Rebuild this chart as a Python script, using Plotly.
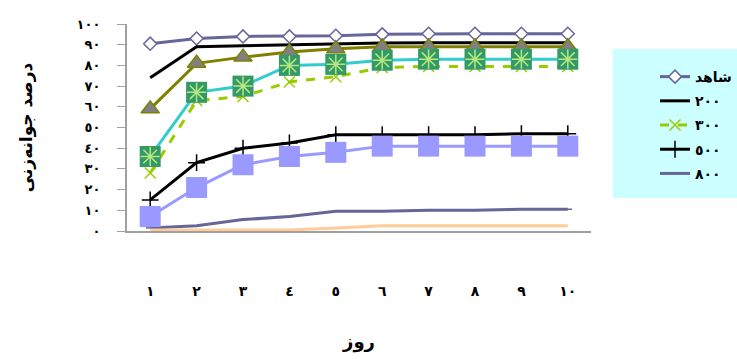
import plotly.graph_objects as go

days = [1, 2, 3, 4, 5, 6, 7, 8, 9, 10]
day_labels = ["١", "٢", "٣", "٤", "٥", "٦", "٧", "٨", "٩", "١٠"]
y_ticks = [0, 10, 20, 30, 40, 50, 60, 70, 80, 90, 100]
y_tick_labels = ["٠", "١٠", "٢٠", "٣٠", "٤٠", "٥٠", "٦٠", "٧٠", "٨٠", "٩٠", "١٠٠"]

control = [90.5, 93, 94, 94, 94.3, 95, 95.3, 95.3, 95.3, 95.3]
s200 = [74, 89, 89.5, 90, 90.5, 90.8, 91, 91, 91, 91]
s300 = [28, 63, 65, 72, 74.5, 79, 79.5, 79.5, 79.5, 79.5]
s500 = [15, 33, 40, 42.5, 46.5, 46.5, 46.5, 46.5, 47, 47]
s800 = [1.5, 2.5, 5.5, 7, 9.5, 9.5, 10, 10, 10.5, 10.5]
s_olive = [59, 81, 84, 86.5, 88, 89, 89, 89, 89, 89]
s_teal = [36, 67, 70, 80, 80.5, 82.5, 83, 83, 83, 83]
s_lav = [7, 21, 32, 36, 38, 41, 41, 41, 41, 41]
s_orange = [0.5, 0.5, 0.5, 0.5, 1.5, 2.5, 2.5, 2.5, 2.5, 2.5]

names = ["شاهد", "٢٠٠", "٣٠٠", "٥٠٠", "٨٠٠"]

fig = go.Figure()

fig.add_trace(go.Scatter(x=days, y=control, name=names[0], mode="lines+markers",
                         line=dict(color="#666699", width=3),
                         marker=dict(symbol="diamond", size=10, color="white",
                                     line=dict(color="#666699", width=1.5)),
                         legendgroup="a"))
fig.add_trace(go.Scatter(x=days, y=s200, name=names[1], mode="lines",
                         line=dict(color="black", width=3), legendgroup="b"))
fig.add_trace(go.Scatter(x=days, y=s300, name=names[2], mode="lines+markers",
                         line=dict(color="#99CC00", width=3, dash="dash"),
                         marker=dict(symbol="x-thin-open", size=11,
                                     line=dict(color="#99CC00", width=1.5)),
                         legendgroup="c"))
fig.add_trace(go.Scatter(x=days, y=s500, name=names[3], mode="lines+markers",
                         line=dict(color="black", width=3),
                         marker=dict(symbol="cross-thin-open", size=12,
                                     line=dict(color="black", width=1.5)),
                         legendgroup="d"))
fig.add_trace(go.Scatter(x=days, y=s800, name=names[4], mode="lines+markers",
                         line=dict(color="#666699", width=3),
                         marker=dict(symbol="line-ew-open", size=6,
                                     line=dict(color="#666699", width=1.5)),
                         legendgroup="e"))
fig.add_trace(go.Scatter(x=days, y=s_olive, mode="lines+markers", showlegend=False,
                         line=dict(color="#808000", width=3),
                         marker=dict(symbol="triangle-up", size=16, color="#808080",
                                     line=dict(color="#808000", width=1.5))))
fig.add_trace(go.Scatter(x=days, y=s_teal, mode="lines+markers", showlegend=False,
                         line=dict(color="#33CCCC", width=3),
                         marker=dict(symbol="square", size=21, color="#339966",
                                     line=dict(width=0))))
fig.add_trace(go.Scatter(x=days, y=s_teal, mode="markers", showlegend=False,
                         marker=dict(symbol="asterisk-open", size=16,
                                     line=dict(color="#33CCCC", width=1.5))))
fig.add_trace(go.Scatter(x=days, y=s_lav, mode="lines+markers", showlegend=False,
                         line=dict(color="#9999FF", width=3),
                         marker=dict(symbol="square", size=21, color="#9999FF",
                                     line=dict(width=0))))
fig.add_trace(go.Scatter(x=days, y=s_orange, mode="lines", showlegend=False,
                         line=dict(color="#FFCC99", width=3)))

font_family = "DejaVu Sans, Arial, sans-serif"

fig.update_layout(
    width=737, height=359,
    margin=dict(l=127, r=146, t=24, b=128),
    plot_bgcolor="white", paper_bgcolor="white",
    font=dict(family=font_family, color="black"),
    xaxis=dict(range=[0.5, 10.5], tickmode="array", tickvals=days, ticktext=day_labels,
               showgrid=False, zeroline=False, showline=True, linecolor="#A0A0A0",
               linewidth=2, ticks="outside", ticklen=46, tickcolor="rgba(0,0,0,0)",
               automargin=False,
               tickfont=dict(size=14, family=font_family, weight="bold"),
               title=dict(text="روز", font=dict(size=18, weight="bold"), standoff=38)),
    yaxis=dict(range=[0, 100], tickmode="array", tickvals=y_ticks, ticktext=y_tick_labels,
               showgrid=False, zeroline=False, showline=True, linecolor="#A0A0A0",
               linewidth=2, ticks="outside", ticklen=8, tickcolor="#A0A0A0",
               ticklabelstandoff=14, automargin=False,
               tickfont=dict(size=13, family=font_family, weight="bold"),
               title=dict(text="درصد جوانه‌زنی", font=dict(size=17, weight="bold"),
                          standoff=40)),
    legend=dict(xref="container", yref="container", x=1.02, y=0.83,
                xanchor="right", yanchor="top",
                bgcolor="rgba(0,0,0,0)", borderwidth=0,
                font=dict(size=14, weight="bold"), tracegroupgap=3),
    shapes=[dict(type="rect", xref="paper", yref="paper",
                 x0=1.047, x1=1.32, y0=0.159, y1=0.879,
                 fillcolor="#CCFFFF", line=dict(width=0), layer="below")],
)

fig.write_html("out.html")
